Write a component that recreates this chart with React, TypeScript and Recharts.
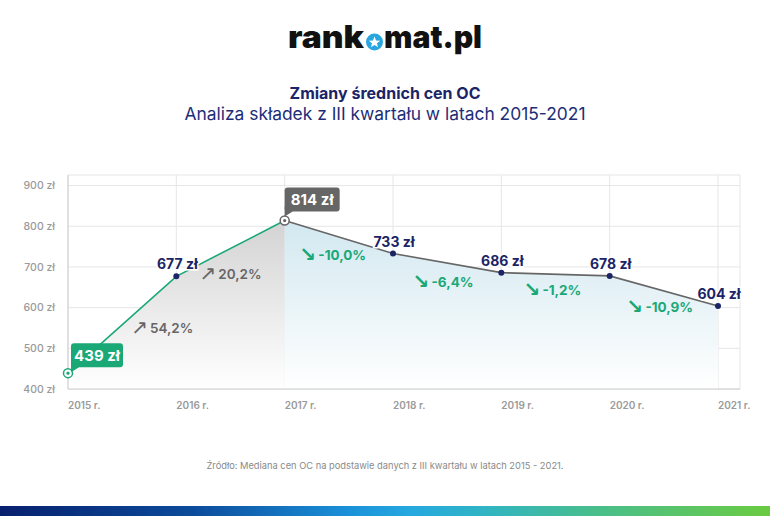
import { ComposedChart, Line, Area, XAxis, YAxis, CartesianGrid } from 'recharts';

// III quarter median OC prices
const years = ['2015 r.', '2016 r.', '2017 r.', '2018 r.', '2019 r.', '2020 r.', '2021 r.'];
const prices = [439, 677, 814, 733, 686, 678, 604];
const changes = ['54,2%', '20,2%', '-10,0%', '-6,4%', '-1,2%', '-10,9%'];
const yTicks = [400, 500, 600, 700, 800, 900];
const peakIndex = 2; // 2017 - rise ends here, fall starts

const rows = years.map((year, i) => ({
  year,
  price: prices[i],
  rise: i <= peakIndex ? prices[i] : null,
  fall: i >= peakIndex ? prices[i] : null,
}));

const GREEN = '#1aa877';
const GRAY = '#666666';
const NAVY = '#1b2466';
const FONT = 'Inter, "Open Sans", sans-serif';

// hand nudges for the % notes, relative to segment middle
const NOTE_NUDGE = [
  [40, 3],
  [0, 26],
  [-6, 18],
  [-4, 19],
  [-3, 16],
  [-4, 16],
];

function PriceDot(props: any) {
  const { cx, cy, index } = props;
  if (cx == null || cy == null) return <g key={`pd-${index}`} />;
  if (index === 0 || index === peakIndex) {
    const c = index === 0 ? GREEN : GRAY;
    return (
      <g key={`pd-${index}`}>
        <circle cx={cx} cy={cy} r={4.5} fill="#fff" stroke={c} strokeWidth={1.5} />
        <circle cx={cx} cy={cy} r={1.6} fill={c} />
      </g>
    );
  }
  return <circle key={`pd-${index}`} cx={cx} cy={cy} r={3} fill={NAVY} />;
}

function PriceLabel(props: any) {
  const { x, y, value, index } = props;
  if (x == null || y == null) return null;
  const text = `${value} zł`;
  if (index === 0 || index === peakIndex) {
    const fill = index === 0 ? GREEN : GRAY;
    const w = index === 0 ? 52 : 55;
    const h = 24;
    const left = index === 0 ? x + 3 : x;
    const bottom = index === 0 ? y - 6 : y - 9;
    const top = bottom - h;
    return (
      <g>
        <rect x={left} y={top} width={w} height={h} rx={3} fill={fill} />
        <path d={`M${left} ${bottom - 5} L${left} ${bottom + 5} L${left + 8} ${bottom} Z`} fill={fill} />
        <text x={left + w / 2} y={top + h / 2} dy="0.36em" textAnchor="middle" fill="#fff" fontSize={15} fontWeight={700}>
          {text}
        </text>
      </g>
    );
  }
  return (
    <text
      x={x + 1}
      y={y - 7}
      textAnchor="middle"
      fill={NAVY}
      fontSize={14}
      fontWeight={700}
      stroke="#fff"
      strokeWidth={3}
      paintOrder="stroke"
    >
      {text}
    </text>
  );
}

function ChangeNote(props: any) {
  const { index, points } = props;
  if (!index || !points || !points[index - 1]) return <g key={`cn-${index}`} />;
  const a = points[index - 1];
  const b = points[index];
  const [dx, dy] = NOTE_NUDGE[index - 1];
  const up = prices[index] > prices[index - 1];
  return (
    <text
      key={`cn-${index}`}
      x={(a.x + b.x) / 2 + dx}
      y={(a.y + b.y) / 2 + dy + 5}
      textAnchor="middle"
      fill={up ? GRAY : GREEN}
      fontSize={13.5}
      fontWeight={up ? 600 : 700}
    >
      <tspan fontFamily='"DejaVu Sans", sans-serif' fontSize={20} fontWeight={up ? 400 : 700} dy={1}>
        {up ? '↗' : '↘'}
      </tspan>
      <tspan dx={2} dy={-1}>{changes[index - 1]}</tspan>
    </text>
  );
}

function YearTick(props: any) {
  const { x, y, payload } = props;
  return (
    <text x={x} y={y + 12} textAnchor="start" fill="#9a9a9a" fontSize={10} fontWeight={600}>
      {payload.value}
    </text>
  );
}

function starPoints(cx: number, cy: number, ro: number, ri: number) {
  const pts: string[] = [];
  for (let i = 0; i < 10; i++) {
    const r = i % 2 === 0 ? ro : ri;
    const ang = -Math.PI / 2 + (i * Math.PI) / 5;
    pts.push(`${cx + r * Math.cos(ang)},${cy + r * Math.sin(ang)}`);
  }
  return pts.join(' ');
}

function Logo() {
  return (
    <svg width={770} height={60} style={{ position: 'absolute', left: 0, top: 0 }}>
      <text x={288} y={48} fontSize={31} fontWeight={900} fill="#111" textLength={76} lengthAdjust="spacingAndGlyphs" fontFamily={FONT}>
        rank
      </text>
      <circle cx={374.5} cy={42} r={8.5} fill="#29a6df" />
      <polygon points={starPoints(374.5, 42.5, 6, 2.6)} fill="#fff" />
      <text x={384} y={48} fontSize={31} fontWeight={900} fill="#111" textLength={98} lengthAdjust="spacingAndGlyphs" fontFamily={FONT}>
        mat.pl
      </text>
    </svg>
  );
}

export default function App() {
  return (
    <div style={{ position: 'absolute', left: 0, top: 0, width: 770, height: 516, background: '#fff', fontFamily: FONT, overflow: 'hidden' }}>
      <Logo />
      <div style={{ position: 'absolute', left: 0, width: 770, top: 82, textAlign: 'center', color: NAVY, fontSize: 16, fontWeight: 700, lineHeight: '22px' }}>
        Zmiany średnich cen OC
      </div>
      <div style={{ position: 'absolute', left: 0, width: 770, top: 103, textAlign: 'center', color: '#1d2d78', fontSize: 17.4, fontWeight: 400, lineHeight: '22px' }}>
        Analiza składek z III kwartału w latach 2015-2021
      </div>

      <ComposedChart width={770} height={516} data={rows} margin={{ top: 175, right: 30, bottom: 97, left: 0 }} style={{ fontFamily: FONT }}>
        <defs>
          <linearGradient id="riseFill" x1="0" y1="0" x2="0" y2="1">
            <stop offset="0%" stopColor="#d3d3d3" />
            <stop offset="100%" stopColor="#ffffff" />
          </linearGradient>
          <linearGradient id="fallFill" x1="0" y1="0" x2="0" y2="1">
            <stop offset="0%" stopColor="#d2e8f0" />
            <stop offset="100%" stopColor="#ffffff" />
          </linearGradient>
        </defs>
        <CartesianGrid stroke="#e6e6e6" />
        <XAxis
          dataKey="year"
          padding={{ left: 0, right: 22 }}
          tick={<YearTick />}
          tickLine={false}
          tickSize={0}
          tickMargin={8}
          axisLine={{ stroke: '#cccccc' }}
          interval={0}
        />
        <YAxis
          domain={[400, 926]}
          ticks={yTicks}
          allowDataOverflow
          width={68}
          tickFormatter={(v: number) => `${v} zł`}
          tick={{ fill: '#9a9a9a', fontSize: 10.5, fontWeight: 500 }}
          tickLine={false}
          tickSize={0}
          tickMargin={13}
          axisLine={{ stroke: '#cccccc' }}
        />
        <Area type="linear" dataKey="rise" fill="url(#riseFill)" fillOpacity={1} stroke="none" dot={false} activeDot={false} isAnimationActive={false} />
        <Area type="linear" dataKey="fall" fill="url(#fallFill)" fillOpacity={1} stroke="none" dot={false} activeDot={false} isAnimationActive={false} />
        <Line type="linear" dataKey="rise" stroke={GREEN} strokeWidth={1.6} dot={false} activeDot={false} isAnimationActive={false} />
        <Line type="linear" dataKey="fall" stroke={GRAY} strokeWidth={1.6} dot={false} activeDot={false} isAnimationActive={false} />
        <Line type="linear" dataKey="price" stroke="none" dot={ChangeNote} activeDot={false} isAnimationActive={false} />
        <Line type="linear" dataKey="price" stroke="none" dot={PriceDot} label={PriceLabel} activeDot={false} isAnimationActive={false} />
      </ComposedChart>

      <div style={{ position: 'absolute', left: 0, width: 770, top: 460, textAlign: 'center', color: '#8a8a8a', fontSize: 9.3, lineHeight: '12px' }}>
        Źródło: Mediana cen OC na podstawie danych z III kwartału w latach 2015 - 2021.
      </div>
      <div
        style={{
          position: 'absolute',
          left: 0,
          top: 506,
          width: 770,
          height: 10,
          background: 'linear-gradient(90deg, #07206e 0%, #0c4b9b 25%, #1a90d8 45%, #25a8df 53%, #31b4c3 63%, #46bd90 76%, #5cc563 90%, #6acb40 100%)',
        }}
      />
    </div>
  );
}
